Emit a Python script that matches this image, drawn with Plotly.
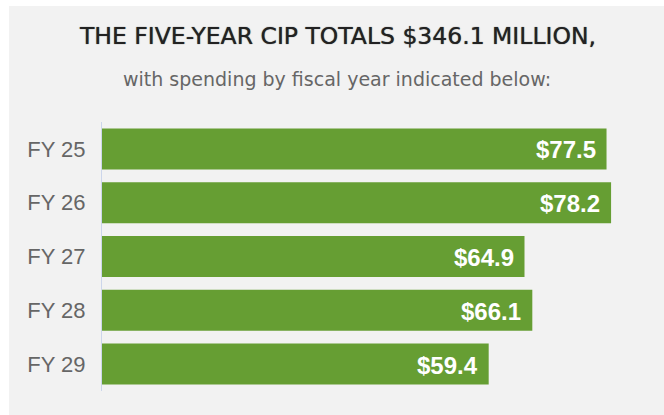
import plotly.graph_objects as go

# CIP spending by fiscal year, $ millions
years = ["FY 25", "FY 26", "FY 27", "FY 28", "FY 29"]
spend = [77.5, 78.2, 64.9, 66.1, 59.4]
labels = [f"${v:.1f}" for v in spend]

W, H = 664, 415
L, R, T, B = 102, 12, 122, 24
plot_w = W - L - R
plot_h = H - T - B
GRAY = "#f2f2f2"
GREEN = "#669e33"


def px_x(px):
    return (px - L) / plot_w


def px_y(py):
    return 1 + (T - py) / plot_h


fig = go.Figure(
    go.Bar(
        x=spend,
        y=years,
        orientation="h",
        marker=dict(color=GREEN, line=dict(width=0)),
        hoverinfo="skip",
    )
)

for v, y, lab in zip(spend, years, labels):
    fig.add_annotation(
        x=v, y=y, text=lab, showarrow=False,
        xanchor="right", yanchor="middle", xshift=-9, yshift=-1,
        font=dict(family="Liberation Sans", size=24, color="white", weight="bold"),
    )

# white strips on top and left, the rest of the page is gray
fig.add_shape(
    type="rect", xref="paper", yref="paper", layer="below",
    x0=px_x(-5), x1=px_x(9), y0=px_y(H + 5), y1=px_y(-5),
    fillcolor="white", line=dict(width=0),
)
fig.add_shape(
    type="rect", xref="paper", yref="paper", layer="below",
    x0=px_x(-5), x1=px_x(W + 5), y0=px_y(6), y1=px_y(-5),
    fillcolor="white", line=dict(width=0),
)

fig.add_annotation(
    xref="paper", yref="paper", x=px_x(337), y=px_y(36),
    text="THE FIVE-YEAR CIP TOTALS $346.1 MILLION,", showarrow=False,
    xanchor="center", yanchor="middle",
    font=dict(family="DejaVu Sans", size=23.5, color="#222222",
              shadow="0px 0px 1px #444"),
)
fig.add_annotation(
    xref="paper", yref="paper", x=px_x(337), y=px_y(79),
    text="with spending by fiscal year indicated below:", showarrow=False,
    xanchor="center", yanchor="middle",
    font=dict(family="DejaVu Sans", size=19, color="#666666"),
)

fig.update_layout(
    width=W, height=H,
    margin=dict(l=L, r=R, t=T, b=B),
    paper_bgcolor=GRAY,
    plot_bgcolor=GRAY,
    bargap=0.238,
    showlegend=False,
    xaxis=dict(range=[0, plot_w / 6.51], visible=False, fixedrange=True),
    yaxis=dict(
        autorange="reversed",
        showline=True, linecolor="#ccd6eb", linewidth=1,
        showgrid=False, zeroline=False, ticks="",
        ticklabelstandoff=11,
        tickfont=dict(family="Liberation Sans", size=22, color="#666666"),
        fixedrange=True,
    ),
)

page_css = (
    "document.documentElement.style.background='#f2f2f2';"
    "document.body.style.margin='0px';"
    "document.body.style.background='#f2f2f2';"
)

fig.write_html("out.html", config={"displayModeBar": False}, post_script=page_css)
